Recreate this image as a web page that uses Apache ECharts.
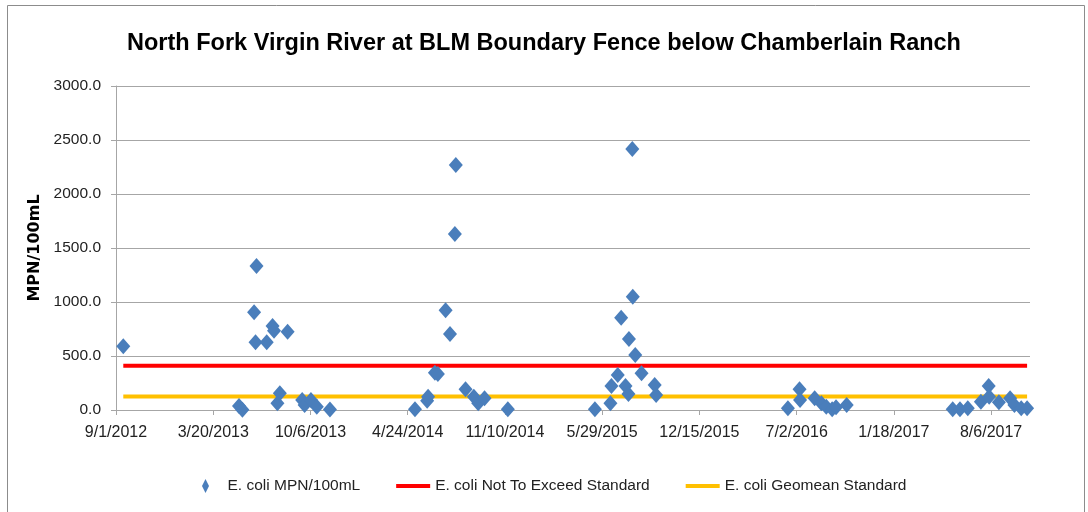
<!DOCTYPE html>
<html>
<head>
<meta charset="utf-8">
<script src="https://cdn.jsdelivr.net/npm/echarts/dist/echarts.min.js"></script>
<style>
  html, body { margin: 0; padding: 0; background: #fff; }
  #chart { width: 1088px; height: 512px; }
</style>
</head>
<body>
<div id="chart"></div>
<script>
// sample dates (M/D/YYYY) and E. coli counts
const sampleDates = [
  '2012-09-16',
  '2013-05-12', '2013-05-19', '2013-06-12', '2013-06-15', '2013-06-17', '2013-07-08',
  '2013-07-20', '2013-07-23', '2013-07-30', '2013-08-04', '2013-08-20', '2013-09-19',
  '2013-09-24', '2013-10-07', '2013-10-19', '2013-11-15',
  '2014-05-09', '2014-06-03', '2014-06-05', '2014-06-19', '2014-06-25', '2014-07-11',
  '2014-07-20', '2014-07-30', '2014-08-01', '2014-08-21', '2014-09-07', '2014-09-16',
  '2014-09-29', '2014-11-16',
  '2015-05-14', '2015-06-15', '2015-06-17', '2015-06-30', '2015-07-07', '2015-07-16',
  '2015-07-22', '2015-07-23', '2015-07-30', '2015-07-31', '2015-08-05', '2015-08-18',
  '2015-09-14', '2015-09-17',
  '2016-06-14', '2016-07-08', '2016-07-09', '2016-08-08', '2016-08-22', '2016-09-01',
  '2016-09-13', '2016-09-21', '2016-10-13',
  '2017-05-19', '2017-06-03', '2017-06-19', '2017-07-16', '2017-08-01', '2017-08-02',
  '2017-08-22', '2017-09-14', '2017-09-23', '2017-10-07', '2017-10-19'
];
const ecoliValues = [
  590,
  37, 2, 905, 627, 1333, 627,
  778, 734, 62, 154, 725, 93,
  46, 93, 31, 4,
  6, 86, 123, 345, 333, 923,
  704, 1630, 2268, 192, 123, 62,
  108, 6,
  6, 62, 222, 324, 855, 222,
  148, 657, 2417, 1049, 509, 340,
  231, 139,
  16, 192, 93, 108, 62, 31,
  6, 25, 46,
  6, 6, 16, 77, 222, 123,
  71, 108, 46, 16, 16
];
const notToExceed = 409;
const geomeanStandard = 126;

// x axis: days counted from 9/1/2012, one label every 200 days
const baseDate = '2012-09-01';
const xTickLabels = ['9/1/2012', '3/20/2013', '10/6/2013', '4/24/2014', '11/10/2014',
  '5/29/2015', '12/15/2015', '7/2/2016', '1/18/2017', '8/6/2017'];

function dayNum(s) {
  let p = s.split('-').map(Number);
  let b = baseDate.split('-').map(Number);
  return Math.round((Date.UTC(p[0], p[1] - 1, p[2]) - Date.UTC(b[0], b[1] - 1, b[2])) / 86400000);
}

let days = sampleDates.map(dayNum);
let scatterData = days.map((d, i) => [d, ecoliValues[i]]);
let firstDay = days[0];
let lastDay = days[days.length - 1];

const font = "'Liberation Sans', Arial, sans-serif";
const gridColor = '#a6a6a6';

let myChart = echarts.init(document.getElementById('chart'));
let option = {
  animation: false,
  title: {
    text: 'North Fork Virgin River at BLM Boundary Fence below Chamberlain Ranch',
    left: 'center',
    top: 27,
    textStyle: { fontFamily: font, fontSize: 23.5, fontWeight: 'bold', color: '#000' }
  },
  graphic: [{
    type: 'rect',
    left: 5, top: 3,
    shape: { width: 1077, height: 530 },
    style: { fill: null, stroke: '#8c8c8c', lineWidth: 1 },
    silent: true
  }],
  legend: {
    top: 473,
    left: 197,
    itemWidth: 34,
    itemHeight: 14,
    itemGap: 36,
    textStyle: { fontFamily: font, fontSize: 15.5, color: '#222' },
    data: [
      { name: 'E. coli MPN/100mL', icon: 'path://M5,0L10,10L5,20L0,10Z' },
      { name: 'E. coli Not To Exceed Standard', icon: 'path://M0,0H34V4H0Z' },
      { name: 'E. coli Geomean Standard', icon: 'path://M0,0H34V4H0Z' }
    ]
  },
  grid: { left: 116, right: 58, top: 86, bottom: 102 },
  xAxis: {
    type: 'value',
    min: 0,
    max: 1880,
    interval: 200,
    axisLine: { show: true, lineStyle: { color: gridColor } },
    axisTick: { show: true, length: 5, lineStyle: { color: gridColor } },
    splitLine: { show: false },
    axisLabel: {
      showMaxLabel: false,
      margin: 15,
      fontFamily: font, fontSize: 16, color: '#222',
      formatter: v => (v % 200 === 0 ? (xTickLabels[v / 200] || '') : '')
    }
  },
  yAxis: {
    type: 'value',
    min: 0,
    max: 3000,
    interval: 500,
    name: 'MPN/100mL',
    nameLocation: 'middle',
    nameGap: 67,
    nameTextStyle: { fontFamily: 'DejaVu Sans', fontSize: 16, fontWeight: 'bold', color: '#000' },
    axisLine: { show: true, lineStyle: { color: gridColor } },
    axisTick: { show: true, length: 5, lineStyle: { color: gridColor } },
    splitLine: { show: true, lineStyle: { color: gridColor, width: 1 } },
    axisLabel: {
      margin: 15,
      fontFamily: font, fontSize: 15.5, color: '#222',
      formatter: v => v.toFixed(1)
    }
  },
  series: [
    {
      name: 'E. coli MPN/100mL',
      type: 'scatter',
      symbol: 'diamond',
      symbolSize: [14, 16],
      z: 5,
      itemStyle: { color: '#4a7ebb', opacity: 1 },
      data: scatterData
    },
    {
      name: 'E. coli Not To Exceed Standard',
      type: 'line',
      showSymbol: false,
      symbol: 'none',
      z: 3,
      lineStyle: { color: '#ff0000', width: 4 },
      itemStyle: { color: '#ff0000' },
      data: [[firstDay, notToExceed], [lastDay, notToExceed]]
    },
    {
      name: 'E. coli Geomean Standard',
      type: 'line',
      showSymbol: false,
      symbol: 'none',
      z: 3,
      lineStyle: { color: '#ffc000', width: 4 },
      itemStyle: { color: '#ffc000' },
      data: [[firstDay, geomeanStandard], [lastDay, geomeanStandard]]
    }
  ]
};
myChart.setOption(option);
</script>
</body>
</html>
